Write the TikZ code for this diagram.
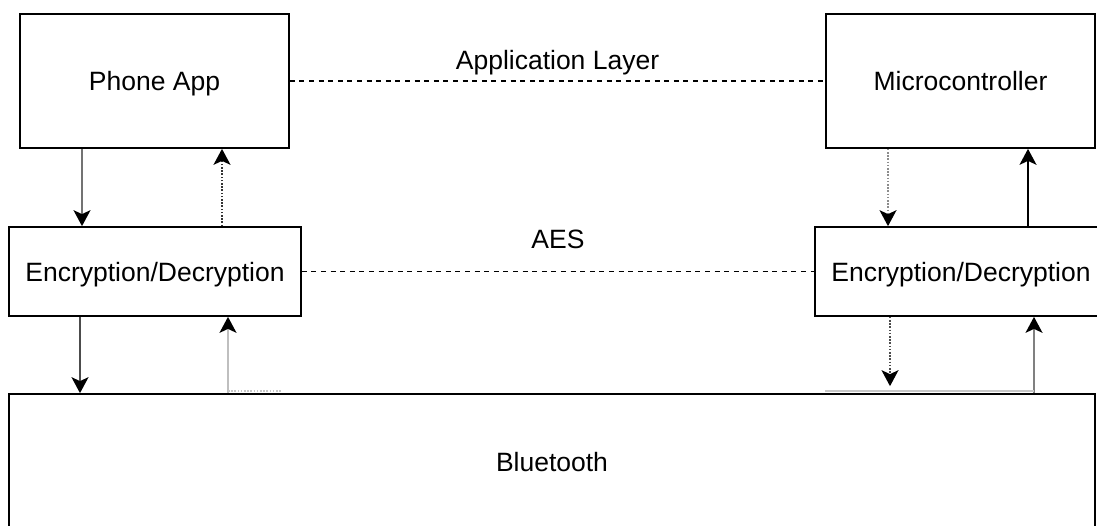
\documentclass[tikz,border=0pt]{standalone}
\usepackage{fontspec}
\setmainfont{Liberation Sans}
\usetikzlibrary{arrows.meta,calc}

\begin{document}
\begin{tikzpicture}[x=0.5pt,y=-0.5pt,
  txt/.style={font=\fontsize{13.25pt}{15pt}\selectfont},
  box/.style={txt, draw=black, line width=0.85pt, fill=white, inner sep=0pt,
    text height=9.5pt, text depth=0pt},
  flow/.style={line width=0.9pt,
    -{Stealth[length=8pt,width=8.5pt,inset=2pt,color=black]}},
  dots/.style={dash pattern=on 0.8pt off 0.8pt},
  layer/.style={draw=black, line width=0.75pt, dash pattern=on 2.5pt off 2.3pt},
  lbl/.style={txt, anchor=base, inner sep=0pt}]

\useasboundingbox (0,0) rectangle (1097,525);
\clip (0,0) rectangle (1097,525);

% blocks
\node[box, minimum width=134.5pt, minimum height=67pt] (app)  at (154.5,81)  {Phone App};
\node[box, minimum width=134.5pt, minimum height=67pt] (mcu)  at (960.5,81)  {Microcontroller};
\node[box, minimum width=146pt,   minimum height=44.5pt] (encL) at (155,271.5) {Encryption/Decryption};
\node[box, minimum width=146pt,   minimum height=44.5pt] (encR) at (961,271.5) {Encryption/Decryption};
\node[box, minimum width=543pt,   minimum height=68pt] (bt)   at (552,462)   {Bluetooth};

% x positions of the vertical links
\coordinate (xa) at (82,0);
\coordinate (xb) at (222,0);
\coordinate (xc) at (80,0);
\coordinate (xd) at (228,0);
\coordinate (xe) at (888,0);
\coordinate (xf) at (1028,0);
\coordinate (xg) at (890,0);
\coordinate (xh) at (1034,0);
\coordinate (xs) at (282,0);
\coordinate (xt) at (825,0);

% peer layers
\draw[layer] (app.east) -- node[lbl, yshift=6pt] {Application Layer} (mcu.west);
\draw[layer] (encL.east) -- node[lbl, yshift=11.5pt] {AES} (encR.west);

% phone side
\draw[flow, draw=black!55] (app.south -| xa) -- (encL.north -| xa);
\draw[flow, draw=black!80, dots] (encL.north -| xb) -- (app.south -| xb);
\draw[flow, draw=black!70] (encL.south -| xc) -- (bt.north -| xc);
\draw[flow, draw=black!25] (bt.north -| xd) -- (encL.south -| xd);

% microcontroller side
\draw[flow, draw=black!45, dots] (mcu.south -| xe) -- (encR.north -| xe);
\draw[flow, draw=black] (encR.north -| xf) -- (mcu.south -| xf);
\draw[flow, draw=black!70, dots, shorten >=3.5pt] (encR.south -| xg) -- (bt.north -| xg);
\draw[flow, draw=black!50] (bt.north -| xh) -- (encR.south -| xh);

% faint traces along the top of the Bluetooth block
\draw[draw=black!22, line width=0.75pt, dots] ($(bt.north -| xd)+(0,-2)$) -- ($(bt.north -| xs)+(0,-2)$);
\draw[draw=black!22, line width=0.75pt] ($(bt.north -| xt)+(0,-2)$) -- ($(bt.north -| xh)+(0,-2)$);
\end{tikzpicture}
\end{document}
